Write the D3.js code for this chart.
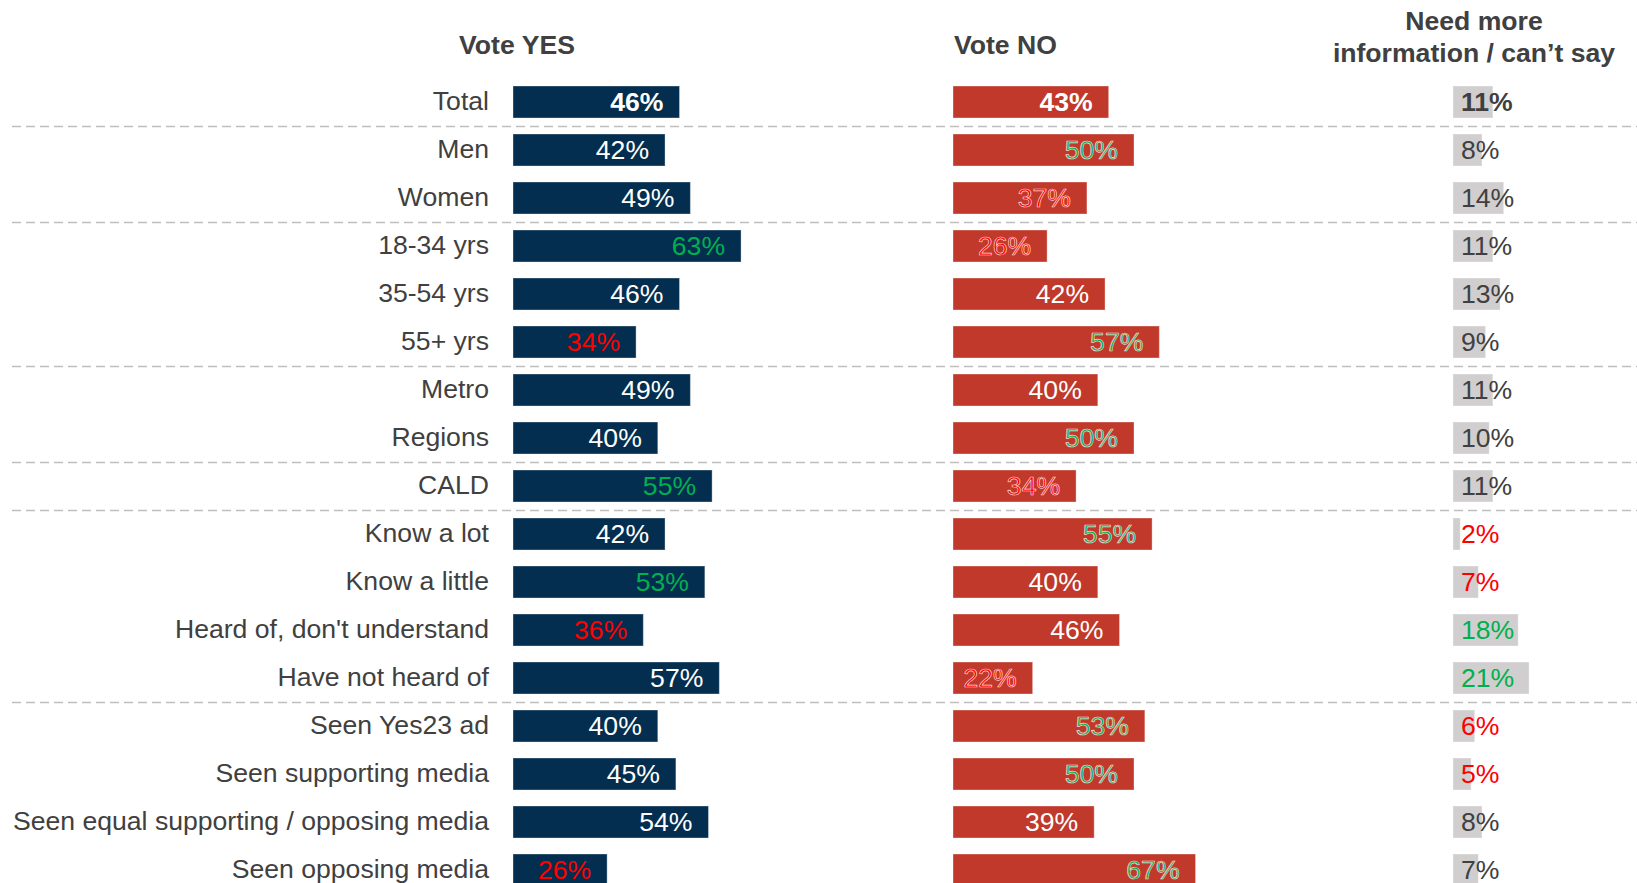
<!DOCTYPE html>
<html lang="en">
<head>
<meta charset="utf-8">
<title>Vote YES / NO by group</title>
<script src="https://cdn.jsdelivr.net/npm/d3@7"></script>
<style>
  body { margin: 0; background: #fff; }
  svg text { font-family: "Liberation Sans", Arial, sans-serif; }
</style>
</head>
<body>
<script>
// chart data
var categories = ["Total", "Men", "Women", "18-34 yrs", "35-54 yrs", "55+ yrs", "Metro", "Regions", "CALD",
  "Know a lot", "Know a little", "Heard of, don't understand", "Have not heard of",
  "Seen Yes23 ad", "Seen supporting media", "Seen equal supporting / opposing media", "Seen opposing media"];
var yesValues = [46, 42, 49, 63, 46, 34, 49, 40, 55, 42, 53, 36, 57, 40, 45, 54, 26];
var noValues = [43, 50, 37, 26, 42, 57, 40, 50, 34, 55, 40, 46, 22, 53, 50, 39, 67];
var unsureValues = [11, 8, 14, 11, 13, 9, 11, 10, 11, 2, 7, 18, 21, 6, 5, 8, 7];
// significance vs total: "hi" = higher, "lo" = lower, "" = none
var yesSig = ["", "", "", "hi", "", "lo", "", "", "hi", "", "hi", "lo", "", "", "", "", "lo"];
var noSig = ["", "hi", "lo", "lo", "", "hi", "", "hi", "lo", "hi", "", "", "lo", "hi", "hi", "", "hi"];
var unsureSig = ["", "", "", "", "", "", "", "", "", "lo", "lo", "hi", "hi", "lo", "lo", "", ""];
// separator lines go after these row indexes
var groupBreaks = [0, 2, 5, 7, 8, 12];
var headers = ["Vote YES", "Vote NO", ["Need more", "information / can\u2019t say"]];

var w = 1637, h = 883;
var svg = d3.select("body").append("svg").attr("width", w).attr("height", h);

var y = d3.scaleBand().domain(d3.range(categories.length)).range([78, 78 + 48 * categories.length]).paddingInner(1 / 3).paddingOuter(1 / 6);
var x = d3.scaleLinear().domain([0, 100]).range([0, 362]);

var textGrey = "#404040";
var green = "#00b050", red = "#ff0000";
var fontSize = 26.6;

// separators
svg.selectAll("line.sep")
  .data(groupBreaks)
  .enter().append("line")
  .attr("class", "sep")
  .attr("x1", 12).attr("x2", w)
  .attr("y1", function(d) { return y(d) + y.bandwidth() + y.step() * (1 / 6) + 0.5; })
  .attr("y2", function(d) { return y(d) + y.bandwidth() + y.step() * (1 / 6) + 0.5; })
  .attr("stroke", "#bfbfbf").attr("stroke-width", 1.5).attr("stroke-dasharray", "9,5");

// category labels
svg.selectAll("text.cat")
  .data(categories)
  .enter().append("text")
  .attr("class", "cat")
  .attr("x", 489)
  .attr("y", function(d, i) { return y(i) + y.bandwidth() / 2 + 7.5; })
  .attr("text-anchor", "end")
  .attr("font-size", fontSize)
  .attr("fill", textGrey)
  .text(function(d) { return d; });

function sigColor(s, base) {
  return s === "hi" ? green : s === "lo" ? red : base;
}

function drawSeries(values, sig, x0, fill, labelBase, inside, outline) {
  var g = svg.append("g").attr("transform", "translate(" + x0 + ",0)");
  g.selectAll("rect")
    .data(values)
    .enter().append("rect")
    .attr("x", 0)
    .attr("y", function(d, i) { return y(i); })
    .attr("width", function(d) { return x(d); })
    .attr("height", y.bandwidth())
    .attr("fill", fill)
    .attr("stroke", "#ffffff").attr("stroke-opacity", 0.35).attr("stroke-width", 1);
  var t = g.selectAll("text")
    .data(values)
    .enter().append("text")
    .attr("x", function(d) { return inside ? x(d) - 16 : 8; })
    .attr("y", function(d, i) { return y(i) + y.bandwidth() / 2 + 8.5; })
    .attr("text-anchor", inside ? "end" : "start")
    .attr("font-size", fontSize)
    .attr("font-weight", function(d, i) { return i === 0 ? "bold" : "normal"; })
    .attr("fill", function(d, i) { return sigColor(sig[i], labelBase); })
    .text(function(d) { return d + "%"; });
  if (outline) {
    t.attr("stroke", function(d, i) { return sig[i] ? "#ffd6d6" : "none"; })
      .attr("stroke-width", 0.7);
  }
}

drawSeries(yesValues, yesSig, 513, "#032e4f", "#ffffff", true, false);
drawSeries(noValues, noSig, 953, "#c0392b", "#ffffff", true, true);
drawSeries(unsureValues, unsureSig, 1453, "#d0cece", textGrey, false, false);

// column headers
svg.append("text").attr("x", 517).attr("y", 54).attr("text-anchor", "middle")
  .attr("font-size", fontSize).attr("font-weight", "bold").attr("fill", textGrey).text(headers[0]);
svg.append("text").attr("x", 954).attr("y", 54).attr("text-anchor", "start")
  .attr("font-size", fontSize).attr("font-weight", "bold").attr("fill", textGrey).text(headers[1]);
svg.append("text").attr("x", 1474).attr("y", 30).attr("text-anchor", "middle")
  .attr("font-size", fontSize).attr("font-weight", "bold").attr("fill", textGrey).text(headers[2][0]);
svg.append("text").attr("x", 1474).attr("y", 62).attr("text-anchor", "middle")
  .attr("font-size", fontSize).attr("font-weight", "bold").attr("fill", textGrey).text(headers[2][1]);
</script>
</body>
</html>
